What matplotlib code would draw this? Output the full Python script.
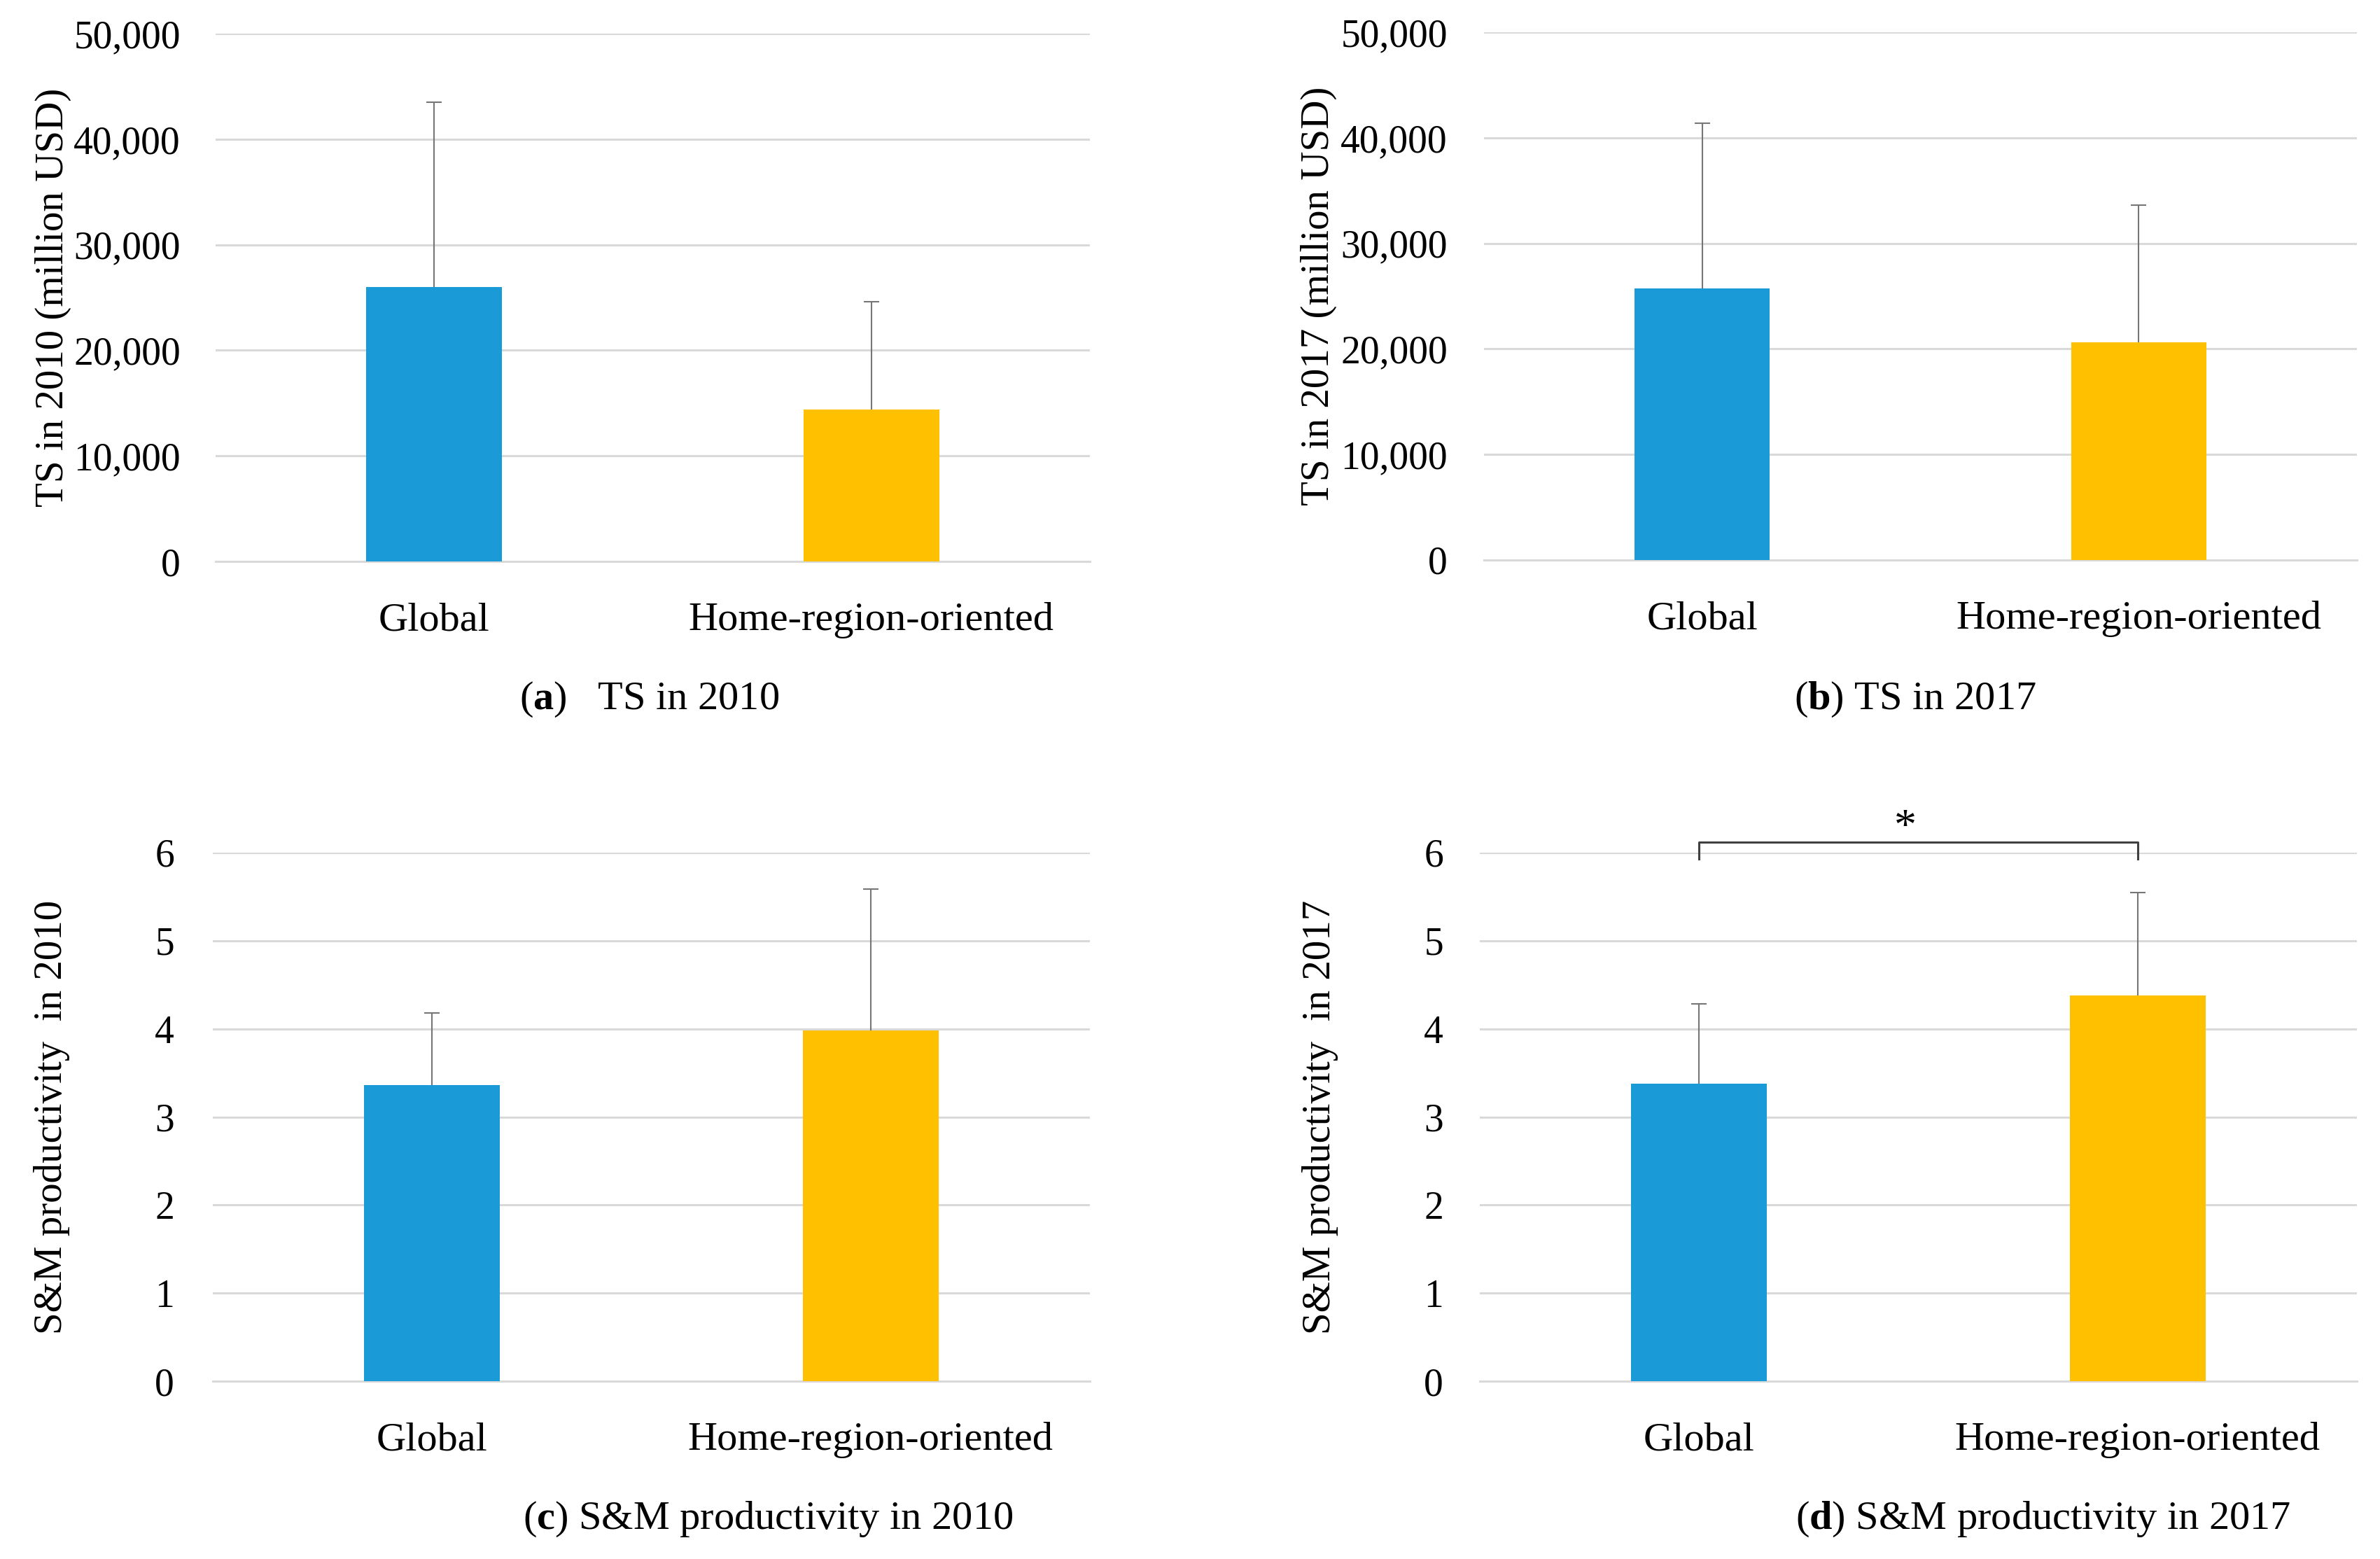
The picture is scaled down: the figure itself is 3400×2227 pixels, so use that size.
import matplotlib
matplotlib.use("Agg")
import matplotlib.pyplot as plt

plt.rcParams['font.family'] = ['Liberation Serif', 'DejaVu Serif']
plt.rcParams['mathtext.fontset'] = 'custom'
plt.rcParams['mathtext.rm'] = 'Liberation Serif'
plt.rcParams['mathtext.bf'] = 'Liberation Serif:bold'

categories = ["Global", "Home-region-oriented"]
colors = ["#1a9bd7", "#ffc000"]

ts2010_mean = [26000, 14400]
ts2010_err = [17500, 10200]
ts2017_mean = [25700, 20600]
ts2017_err = [15700, 13000]
sm2010_mean = [3.36, 3.98]
sm2010_err = [0.82, 1.61]
sm2017_mean = [3.38, 4.38]
sm2017_err = [0.90, 1.17]

ts_ticks = [0, 10000, 20000, 30000, 40000, 50000]
ts_ticklabels = ["0", "10,000", "20,000", "30,000", "40,000", "50,000"]
sm_ticks = [0, 1, 2, 3, 4, 5, 6]
sm_ticklabels = ["0", "1", "2", "3", "4", "5", "6"]

W, H = 3400, 2227
fig = plt.figure(figsize=(W / 100, H / 100), dpi=100)

def px_axes(left, right, top, bottom):
    return fig.add_axes([left / W, 1 - bottom / H, (right - left) / W, (bottom - top) / H])

panels = [
    dict(box=(308, 1557, 48, 802), mean=ts2010_mean, err=ts2010_err, ticks=ts_ticks,
         tl=ts_ticklabels, ylim=(0, 50000), ylabel="TS in 2010 (million USD)",
         ylx=102, caption=r"($\mathbf{a}$)   TS in 2010", capx=928, capy=999, tlx=258),
    dict(box=(2120, 3367, 46, 800), mean=ts2017_mean, err=ts2017_err, ticks=ts_ticks,
         tl=ts_ticklabels, ylim=(0, 50000), ylabel="TS in 2017 (million USD)",
         ylx=1910, caption=r"($\mathbf{b}$) TS in 2017", capx=2736, capy=999, tlx=2068),
    dict(box=(304, 1557, 1218, 1973), mean=sm2010_mean, err=sm2010_err, ticks=sm_ticks,
         tl=sm_ticklabels, ylim=(0, 6), ylabel="S&M productivity  in 2010",
         ylx=100, caption=r"($\mathbf{c}$) S&M productivity in 2010", capx=1097, capy=2170, tlx=249),
    dict(box=(2114, 3367, 1218, 1973), mean=sm2017_mean, err=sm2017_err, ticks=sm_ticks,
         tl=sm_ticklabels, ylim=(0, 6), ylabel="S&M productivity  in 2017",
         ylx=1912, caption=r"($\mathbf{d}$) S&M productivity in 2017", capx=2919, capy=2170, tlx=2062),
]

axes = []
for p in panels:
    l, r, t, b = p["box"]
    ax = px_axes(l, r, t, b)
    axes.append(ax)
    x = list(range(len(categories)))
    ax.bar(x, p["mean"], width=0.31, color=colors, zorder=3)
    eb = ax.errorbar(x, p["mean"], yerr=[[0] * len(x), p["err"]], fmt="none",
                     ecolor="#767676", elinewidth=1.5, capsize=8, capthick=1.5,
                     zorder=4, clip_on=False)
    eb[1][0].set_visible(False)
    ax.set_xlim(-0.5, 1.5)
    ax.set_ylim(*p["ylim"])
    ax.set_yticks(p["ticks"])
    ax.set_yticklabels(p["tl"])
    ax.set_xticks(x)
    ax.set_xticklabels(categories)
    ax.grid(axis="y", color="#d9d9d9", linewidth=2.2, zorder=0)
    ax.set_axisbelow(True)
    for s in ["top", "right", "left"]:
        ax.spines[s].set_visible(False)
    ax.spines["bottom"].set_color("#d9d9d9")
    ax.spines["bottom"].set_linewidth(2.2)
    ax.tick_params(axis="both", length=0, labelsize=40, colors="black")
    ax.tick_params(axis="x", pad=42, labelsize=42)
    ax.tick_params(axis="y", pad=(l - p["tlx"]) * 0.72)
    ax.set_ylabel(p["ylabel"], fontsize=41)
    ax.yaxis.set_label_coords((p["ylx"] - l) / (r - l), 0.5)
    fig.text(p["capx"] / W, 1 - p["capy"] / H, p["caption"], ha="center", va="center",
             fontsize=42)

# significance bracket in panel (d)
axd = axes[3]
axd.plot([0, 0, 1, 1], [5.93, 6.12, 6.12, 5.93], color="#404040", linewidth=2.2,
         clip_on=False, zorder=5)
axd.text(0.47, 6.27, "*", ha="center", va="center", fontsize=46, clip_on=False)

fig.savefig("out.png", dpi=100, facecolor="white")
